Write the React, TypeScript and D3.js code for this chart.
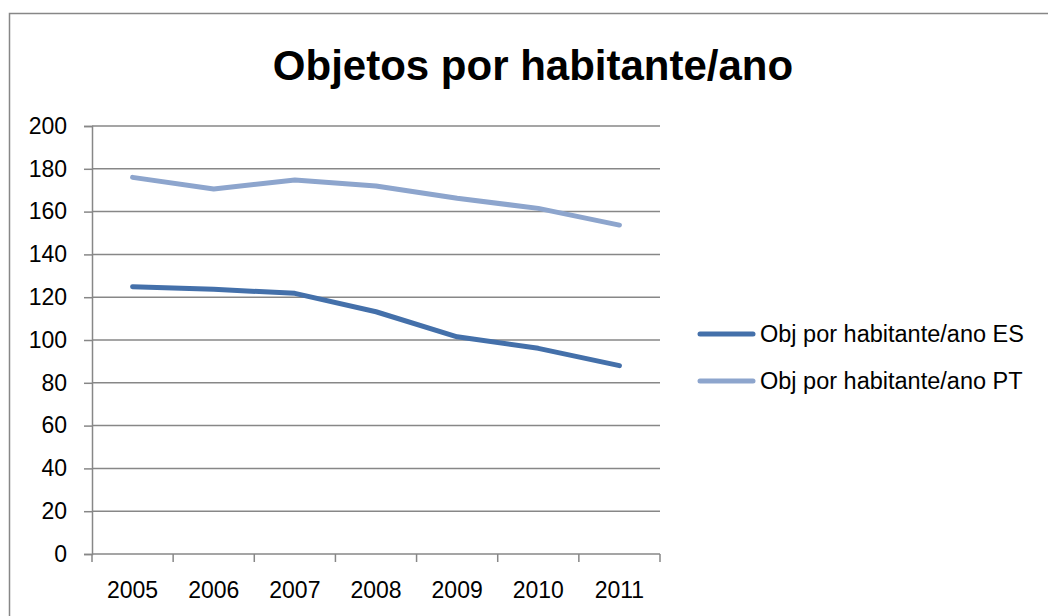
import React, { useEffect, useRef } from "react";
import * as d3 from "d3";

const years = ["2005", "2006", "2007", "2008", "2009", "2010", "2011"];
const esValues = [124.9, 123.7, 121.8, 113.2, 101.5, 96.1, 88.0];
const ptValues = [176.0, 170.6, 174.8, 172.0, 166.2, 161.5, 153.7];
const yTicks = [0, 20, 40, 60, 80, 100, 120, 140, 160, 180, 200];
const seriesNames = ["Obj por habitante/ano ES", "Obj por habitante/ano PT"];
const seriesColors = ["#4470AA", "#8DA5CD"];

const App = () => {
  const chartRef = useRef<SVGSVGElement>(null);

  useEffect(() => {
    const svg = d3.select(chartRef.current);
    svg.selectAll("*").remove();

    const W = 1048;
    const H = 616;
    const plot = { left: 92, right: 660, top: 126, bottom: 554 };
    const font = "'Liberation Sans', Arial, sans-serif";
    const grey = "#878787";

    // outer chart frame (runs off the right and bottom edges)
    svg
      .append("rect")
      .attr("x", 9.5)
      .attr("y", 13.5)
      .attr("width", W + 10)
      .attr("height", H + 10)
      .attr("fill", "#fff")
      .attr("stroke", grey)
      .attr("stroke-width", 1.5);

    // title
    svg
      .append("text")
      .attr("x", 533)
      .attr("y", 80)
      .attr("text-anchor", "middle")
      .attr("font-family", font)
      .attr("font-weight", "bold")
      .attr("font-size", 42)
      .attr("fill", "#000")
      .text("Objetos por habitante/ano");

    // scales
    const xScale = d3
      .scaleBand()
      .domain(years)
      .range([plot.left, plot.right]);

    const yScale = d3
      .scaleLinear()
      .domain([0, 200])
      .range([plot.bottom, plot.top]);

    // gridlines
    svg
      .append("g")
      .selectAll("line")
      .data(yTicks.filter((t) => t > 0))
      .join("line")
      .attr("x1", plot.left)
      .attr("x2", plot.right)
      .attr("y1", (d) => yScale(d))
      .attr("y2", (d) => yScale(d))
      .attr("stroke", grey)
      .attr("stroke-width", 1.5);

    // y axis
    const yAxis = d3
      .axisLeft(yScale)
      .tickValues(yTicks)
      .tickSize(8)
      .tickPadding(17);

    const yg = svg
      .append("g")
      .attr("transform", `translate(${plot.left},0)`)
      .call(yAxis);
    yg.select(".domain").attr("stroke", grey).attr("stroke-width", 1.5);
    yg.selectAll(".tick line").attr("stroke", grey).attr("stroke-width", 1.5);
    yg.selectAll("text")
      .attr("font-family", font)
      .attr("font-size", 23)
      .attr("fill", "#000");

    // x axis: ticks at band edges, labels at band centres
    const xg = svg.append("g");
    xg.append("line")
      .attr("x1", plot.left)
      .attr("x2", plot.right)
      .attr("y1", plot.bottom)
      .attr("y2", plot.bottom)
      .attr("stroke", grey)
      .attr("stroke-width", 1.5);

    const edges = years.map((y) => xScale(y) as number).concat([plot.right]);
    xg.selectAll(".xtick")
      .data(edges)
      .join("line")
      .attr("class", "xtick")
      .attr("x1", (d) => d)
      .attr("x2", (d) => d)
      .attr("y1", plot.bottom)
      .attr("y2", plot.bottom + 8)
      .attr("stroke", grey)
      .attr("stroke-width", 1.5);

    xg.selectAll(".xlabel")
      .data(years)
      .join("text")
      .attr("class", "xlabel")
      .attr("x", (d) => (xScale(d) as number) + xScale.bandwidth() / 2)
      .attr("y", 598)
      .attr("text-anchor", "middle")
      .attr("font-family", font)
      .attr("font-size", 23)
      .attr("fill", "#000")
      .text((d) => d);

    // lines
    const line = d3
      .line<number>()
      .x((_, i) => (xScale(years[i]) as number) + xScale.bandwidth() / 2)
      .y((d) => yScale(d));

    [esValues, ptValues].forEach((vals, i) => {
      svg
        .append("path")
        .datum(vals)
        .attr("d", line)
        .attr("fill", "none")
        .attr("stroke", seriesColors[i])
        .attr("stroke-width", 5)
        .attr("stroke-linecap", "round")
        .attr("stroke-linejoin", "round");
    });

    // legend
    const legend = svg
      .append("g")
      .selectAll("g")
      .data(seriesNames)
      .join("g")
      .attr("transform", (_, i) => `translate(700,${334 + i * 47})`);

    legend
      .append("line")
      .attr("x1", 0)
      .attr("x2", 53)
      .attr("stroke", (_, i) => seriesColors[i])
      .attr("stroke-width", 5)
      .attr("stroke-linecap", "round");

    legend
      .append("text")
      .attr("x", 60)
      .attr("y", 8)
      .attr("font-family", font)
      .attr("font-size", 23.5)
      .attr("fill", "#000")
      .text((d) => d);
  }, []);

  return (
    <svg
      ref={chartRef}
      width={1048}
      height={616}
      viewBox="0 0 1048 616"
      style={{ position: "absolute", left: 0, top: 0 }}
    />
  );
};

export default App;
